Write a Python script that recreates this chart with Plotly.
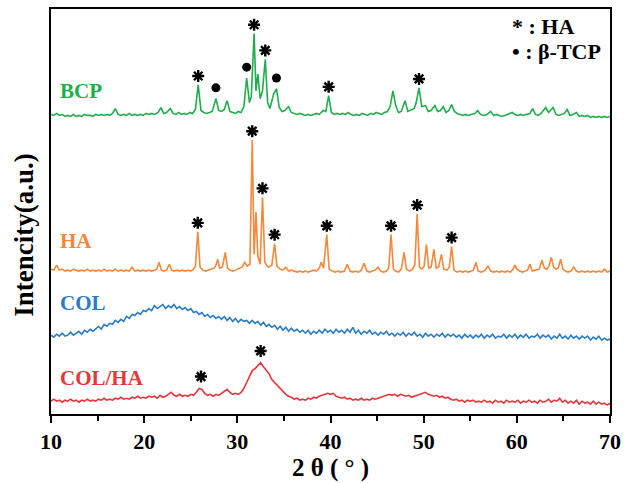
import plotly.graph_objects as go

# ---------------- data ----------------
# BCP pattern: 2theta and intensity (a.u., relative to its own zero)
BCP_2THETA = [10.0, 10.3, 10.6, 10.9, 11.2, 11.5, 11.8, 12.1, 12.4, 12.7, 13.0, 13.3, 13.6, 13.9, 14.2, 14.5,
              14.8, 15.1, 15.4, 15.7, 16.0, 16.3, 16.6, 16.9, 17.2, 17.5, 17.8, 18.1, 18.4, 18.7, 19.0, 19.3,
              19.6, 19.9, 20.2, 20.5, 20.8, 21.1, 21.5, 21.8, 22.1, 22.4, 22.8, 23.1, 23.4, 23.7, 24.0, 24.3,
              24.6, 24.9, 25.2, 25.5, 25.8, 26.1, 26.4, 26.7, 27.0, 27.3, 27.7, 28.0, 28.3, 28.6, 28.9, 29.2,
              29.5, 29.8, 30.1, 30.4, 30.7, 31.0, 31.3, 31.5, 31.8, 32.0, 32.2, 32.45, 32.7, 33.0, 33.25, 33.5,
              33.9, 34.2, 34.5, 34.8, 35.1, 35.5, 35.8, 36.1, 36.4, 36.7, 37.0, 37.3, 37.6, 37.9, 38.2, 38.5,
              38.8, 39.2, 39.5, 39.8, 40.1, 40.4, 40.7, 41.0, 41.3, 41.6, 41.9, 42.2, 42.5, 42.8, 43.1, 43.4,
              43.7, 44.0, 44.3, 44.6, 44.9, 45.2, 45.5, 45.8, 46.1, 46.4, 46.7, 47.0, 47.3, 47.6, 48.0, 48.3,
              48.6, 49.0, 49.2, 49.5, 49.8, 50.2, 50.5, 50.8, 51.2, 51.5, 51.8, 52.1, 52.4, 52.7, 53.0, 53.3,
              53.6, 53.9, 54.2, 54.5, 54.8, 55.1, 55.5, 55.8, 56.1, 56.4, 56.8, 57.2, 57.5, 57.8, 58.1, 58.4,
              58.7, 59.0, 59.5, 59.8, 60.1, 60.4, 60.7, 61.0, 61.4, 61.7, 62.0, 62.3, 62.6, 63.1, 63.4, 63.9,
              64.2, 64.5, 64.8, 65.1, 65.4, 65.7, 66.0, 66.4, 66.7, 67.0, 67.3, 67.6, 67.9, 68.2, 68.5, 68.8,
              69.1, 69.4, 69.7, 70.0]
BCP_INT = [6, 5, 7, 5, 6, 4, 5, 4, 6, 4, 5, 4, 6, 5, 5, 4,
           6, 5, 6, 5, 6, 5, 7, 12, 6, 5, 6, 5, 7, 5, 6, 5,
           6, 5, 7, 6, 7, 6, 8, 13, 7, 8, 12, 7, 6, 8, 6, 7,
           6, 8, 7, 11, 36, 10, 8, 7, 8, 9, 22, 10, 9, 11, 20, 9,
           8, 7, 9, 8, 14, 43, 18, 24, 88, 30, 47, 22, 30, 62, 18, 12,
           27, 32, 13, 9, 10, 14, 8, 7, 6, 7, 6, 5, 6, 5, 6, 7,
           6, 10, 9, 25, 8, 6, 7, 6, 7, 6, 8, 6, 5, 6, 5, 7,
           6, 5, 7, 6, 8, 7, 6, 8, 9, 14, 30, 15, 8, 9, 20, 9,
           10, 12, 18, 33, 14, 15, 9, 10, 15, 9, 10, 14, 8, 10, 16, 9,
           7, 6, 5, 6, 5, 6, 7, 10, 6, 5, 6, 9, 5, 6, 5, 4,
           5, 6, 8, 6, 5, 6, 5, 6, 7, 12, 6, 5, 7, 13, 8, 13,
           6, 5, 6, 7, 11, 5, 6, 8, 4, 5, 4, 5, 3, 4, 3, 4,
           3, 4, 3, 4]

# HA pattern
HA_2THETA = [10.0, 10.3, 10.6, 10.9, 11.2, 11.5, 11.8, 12.1, 12.4, 12.7, 13.0, 13.3, 13.6, 13.9, 14.2, 14.5,
             14.8, 15.1, 15.4, 15.7, 16.0, 16.3, 16.6, 16.9, 17.2, 17.5, 17.8, 18.1, 18.4, 18.7, 19.0, 19.3,
             19.6, 19.9, 20.2, 20.5, 20.8, 21.1, 21.35, 21.6, 21.85, 22.1, 22.4, 22.7, 22.95, 23.2, 23.5, 23.8,
             24.1, 24.4, 24.7, 25.0, 25.3, 25.5, 25.75, 26.0, 26.3, 26.6, 26.9, 27.2, 27.5, 27.7, 27.9, 28.1,
             28.4, 28.7, 28.95, 29.2, 29.5, 29.8, 30.1, 30.5, 30.8, 31.05, 31.35, 31.6, 31.8, 32.0, 32.2, 32.45,
             32.7, 32.95, 33.3, 33.7, 34.0, 34.25, 34.6, 34.9, 35.2, 35.5, 35.8, 36.1, 36.4, 36.7, 37.0, 37.3,
             37.6, 37.9, 38.2, 38.5, 38.8, 39.0, 39.25, 39.6, 39.85, 40.2, 40.5, 40.8, 41.1, 41.5, 41.8, 42.1,
             42.4, 42.7, 43.0, 43.3, 43.6, 43.9, 44.2, 44.5, 44.8, 45.1, 45.4, 45.7, 46.0, 46.25, 46.5, 46.75,
             47.0, 47.3, 47.6, 47.9, 48.15, 48.5, 48.8, 49.05, 49.3, 49.55, 49.8, 50.05, 50.3, 50.55, 50.8, 51.1,
             51.35, 51.6, 51.9, 52.15, 52.5, 52.75, 53.0, 53.25, 53.6, 53.9, 54.2, 54.5, 54.8, 55.1, 55.35, 55.6,
             55.85, 56.2, 56.6, 56.9, 57.2, 57.5, 57.8, 58.1, 58.4, 58.7, 59.0, 59.3, 59.6, 59.8, 60.0, 60.3,
             60.6, 60.9, 61.15, 61.4, 61.65, 62.0, 62.4, 62.7, 62.95, 63.2, 63.45, 63.7, 63.95, 64.2, 64.45, 64.7,
             64.95, 65.2, 65.5, 65.8, 66.1, 66.4, 66.7, 67.0, 67.3, 67.6, 67.9, 68.2, 68.5, 68.8, 69.1, 69.4,
             69.7, 70.0]
HA_INT = [5, 4, 9, 4, 5, 3, 4, 3, 5, 4, 3, 4, 3, 5, 3, 4,
          3, 4, 3, 5, 3, 4, 3, 5, 3, 4, 3, 4, 3, 7, 3, 4,
          3, 4, 3, 4, 3, 4, 5, 12, 4, 3, 4, 10, 4, 3, 4, 3,
          4, 3, 4, 3, 5, 8, 43, 7, 4, 3, 4, 5, 6, 9, 15, 6,
          7, 22, 6, 4, 3, 4, 5, 7, 12, 8, 10, 136, 20, 63, 18, 10,
          78, 12, 7, 9, 31, 8, 5, 4, 7, 3, 4, 3, 2, 3, 2, 3,
          2, 3, 4, 3, 6, 12, 6, 40, 5, 3, 2, 3, 2, 3, 10, 3,
          2, 3, 2, 4, 11, 3, 2, 3, 4, 7, 3, 2, 3, 6, 40, 5,
          3, 2, 5, 22, 5, 3, 5, 9, 61, 7, 5, 8, 30, 6, 7, 25,
          6, 7, 20, 5, 4, 7, 28, 4, 2, 3, 2, 3, 2, 3, 4, 12,
          3, 2, 4, 8, 3, 2, 3, 2, 3, 2, 3, 2, 5, 9, 5, 3,
          2, 3, 4, 10, 3, 4, 5, 14, 6, 5, 8, 17, 7, 5, 6, 15,
          5, 3, 2, 3, 7, 3, 2, 3, 2, 3, 2, 3, 2, 3, 2, 5,
          2, 3]

# COL and COL/HA: recorded on a regular 2theta grid
SCAN_START = 10.0
SCAN_STEP = 0.3
COL_INT = [6, 4, 7, 5, 8, 5, 6, 9, 6, 8, 10, 7, 11, 9, 12, 10,
           13, 15, 12, 17, 15, 18, 17, 21, 19, 22, 20, 25, 23, 27, 26, 29,
           27, 31, 30, 33, 31, 36, 33, 35, 37, 33, 36, 34, 37, 33, 35, 32,
           34, 31, 33, 29, 30, 27, 29, 25, 27, 24, 26, 23, 25, 22, 25, 21,
           24, 20, 23, 19, 22, 20, 21, 18, 21, 18, 20, 16, 19, 15, 17, 14,
           16, 12, 15, 11, 14, 10, 13, 10, 12, 9, 11, 8, 11, 7, 10, 8,
           11, 8, 12, 9, 11, 8, 12, 9, 11, 8, 12, 9, 14, 8, 11, 7,
           10, 8, 11, 7, 9, 6, 9, 7, 10, 6, 8, 5, 8, 6, 9, 5,
           8, 6, 9, 5, 7, 4, 8, 5, 7, 4, 7, 5, 8, 4, 7, 5,
           7, 4, 6, 3, 7, 4, 6, 3, 6, 4, 7, 3, 6, 4, 7, 3,
           5, 4, 7, 3, 6, 4, 7, 3, 6, 4, 7, 3, 5, 4, 7, 3,
           6, 4, 6, 2, 5, 3, 7, 3, 5, 2, 6, 3, 5, 2, 5, 3,
           5, 1, 4, 2, 5, 1, 3, 1, 2]
COLHA_INT = [5, 7, 5, 6, 4, 6, 5, 7, 5, 6, 4, 6, 5, 7, 5, 6,
             5, 7, 6, 8, 6, 7, 6, 8, 7, 9, 7, 8, 7, 9, 8, 10,
             8, 9, 8, 10, 9, 10, 8, 11, 9, 10, 12, 14, 11, 10, 12, 10,
             11, 10, 12, 11, 14, 18, 17, 13, 11, 12, 10, 12, 11, 13, 15, 17,
             14, 12, 13, 12, 14, 18, 24, 31, 36, 38, 41, 44, 40, 37, 33, 27,
             24, 20, 17, 14, 12, 10, 9, 7, 8, 6, 7, 6, 8, 7, 9, 8,
             10, 11, 12, 13, 12, 13, 10, 9, 8, 9, 7, 8, 6, 7, 6, 8,
             6, 7, 6, 8, 7, 8, 9, 10, 11, 12, 11, 12, 10, 12, 11, 10,
             11, 9, 10, 11, 12, 13, 14, 12, 11, 10, 11, 9, 10, 8, 9, 7,
             6, 7, 5, 6, 4, 6, 5, 6, 4, 5, 4, 6, 4, 5, 3, 6,
             4, 5, 3, 6, 4, 5, 4, 6, 3, 5, 4, 6, 4, 5, 3, 6,
             4, 5, 7, 4, 6, 5, 8, 4, 6, 3, 5, 3, 6, 2, 5, 3,
             4, 2, 5, 2, 4, 2, 3, 1, 3]

SERIES_NAMES = ["BCP", "HA", "COL", "COL/HA"]

# peak assignments (2theta)
BCP_HA_PEAKS = [25.8, 31.8, 33.0, 39.8, 49.5]
BCP_TCP_PEAKS = [27.7, 31.0, 34.2]
HA_HA_PEAKS = [25.75, 31.6, 32.7, 34.0, 39.6, 46.5, 49.3, 53.0]
COLHA_HA_PEAKS = [26.1, 32.5]

LEGEND_LINES = ["* : HA", "• : β-TCP"]

# ---------------- styling / layout ----------------
OFFSETS = {"BCP": 298, "HA": 142, "COL": 74, "COL/HA": 8}
COLORS = {"BCP": "#1fae4b", "HA": "#f5883a", "COL": "#2a7cc7", "COL/HA": "#e8353a"}
FONT = "Liberation Serif, Times New Roman, serif"

col_x = [SCAN_START + SCAN_STEP * i for i in range(len(COL_INT))]
colha_x = [SCAN_START + SCAN_STEP * i for i in range(len(COLHA_INT))]

data = {
    "BCP": (BCP_2THETA, BCP_INT),
    "HA": (HA_2THETA, HA_INT),
    "COL": (col_x, COL_INT),
    "COL/HA": (colha_x, COLHA_INT),
}

fig = go.Figure()
for name in SERIES_NAMES:
    xs, ys = data[name]
    fig.add_trace(go.Scatter(
        x=xs, y=[OFFSETS[name] + v for v in ys], mode="lines",
        line=dict(color=COLORS[name], width=1.6), name=name, showlegend=False,
        hoverinfo="skip"))


def peak_top(name, pos, win):
    xs, ys = data[name]
    vals = [v for x, v in zip(xs, ys) if abs(x - pos) <= win]
    return OFFSETS[name] + max(vals)


def add_markers(name, peaks, symbol, gap, win, size, lw):
    fig.add_trace(go.Scatter(
        x=peaks, y=[peak_top(name, p, win) + gap for p in peaks], mode="markers",
        marker=dict(symbol=symbol, size=size, color="black",
                    line=dict(color="black", width=lw)),
        showlegend=False, hoverinfo="skip"))


add_markers("BCP", BCP_HA_PEAKS, "asterisk-open", 9, 0.15, 10, 2.4)
add_markers("BCP", BCP_TCP_PEAKS, "circle", 11, 0.15, 9, 0)
add_markers("HA", HA_HA_PEAKS, "asterisk-open", 9, 0.15, 10, 2.4)
add_markers("COL/HA", COLHA_HA_PEAKS, "asterisk-open", 12, 0.3, 10, 2.4)

# series labels
LABEL_POS = {"BCP": 90, "HA": 242, "COL": 305, "COL/HA": 381}
PLOT_L, PLOT_R, PLOT_T, PLOT_B = 51, 610, 7, 418
for name in SERIES_NAMES:
    fig.add_annotation(
        xref="paper", yref="paper", x=(58 - PLOT_L) / (PLOT_R - PLOT_L),
        y=(PLOT_B - LABEL_POS[name]) / (PLOT_B - PLOT_T),
        text=f"<b>{name}</b>", showarrow=False, xanchor="left", yanchor="middle",
        font=dict(family=FONT, size=21, color=COLORS[name]))

for i, txt in enumerate(LEGEND_LINES):
    fig.add_annotation(
        xref="paper", yref="paper", x=(510 - PLOT_L) / (PLOT_R - PLOT_L),
        y=(PLOT_B - (25 + 25 * i)) / (PLOT_B - PLOT_T),
        text=f"<b>{txt}</b>", showarrow=False, xanchor="left", yanchor="middle",
        font=dict(family=FONT, size=22, color="black"))

# y-axis title
fig.add_annotation(
    xref="paper", yref="paper", x=(24 - PLOT_L) / (PLOT_R - PLOT_L),
    y=(PLOT_B - 236) / (PLOT_B - PLOT_T), text="<b>Intencity(a.u.)</b>",
    textangle=-90, showarrow=False, xanchor="center", yanchor="middle",
    font=dict(family=FONT, size=27, color="black"))

fig.update_layout(
    width=630, height=483,
    margin=dict(l=PLOT_L, r=630 - PLOT_R, t=PLOT_T, b=483 - PLOT_B),
    paper_bgcolor="white", plot_bgcolor="white",
    font=dict(family=FONT, color="black"),
)
fig.update_xaxes(
    range=[10, 70], dtick=10, tick0=10, showgrid=False, zeroline=False,
    showline=True, mirror=True, linecolor="black", linewidth=2,
    ticks="outside", ticklen=7, tickwidth=2, tickcolor="black",
    minor=dict(dtick=5, ticks="outside", ticklen=5, tickwidth=2, tickcolor="black", showgrid=False),
    tickfont=dict(family=FONT, size=22, color="black"),
    tickprefix="<b>", ticksuffix="</b>",
    title=dict(text="<b>2 θ ( ° )</b>", font=dict(family=FONT, size=25, color="black"), standoff=4),
)
fig.update_yaxes(
    range=[0, PLOT_B - PLOT_T], showgrid=False, zeroline=False, showticklabels=False,
    showline=True, mirror=True, linecolor="black", linewidth=2, ticks="",
)

fig.write_html("out.html", config={"displayModeBar": False},
               post_script="document.body.style.margin='0px';")
